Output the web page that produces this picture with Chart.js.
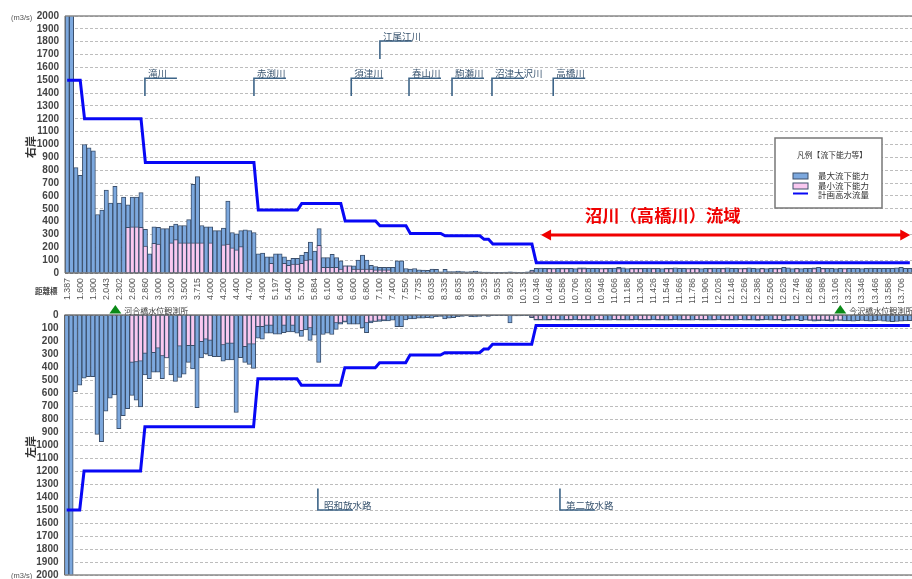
<!DOCTYPE html>
<html lang="ja"><head><meta charset="utf-8">
<script src="https://cdn.jsdelivr.net/npm/chart.js@4/dist/chart.umd.min.js"></script>
<style>
html,body{margin:0;padding:0;background:#fff;overflow:hidden}
#wrap{position:relative;width:912px;height:579px;overflow:hidden;filter:blur(0.55px)}
canvas{position:absolute;left:0}
#top{top:0}#bot{top:300px}
</style></head><body>
<div id="wrap"><canvas id="top" width="912" height="303"></canvas><canvas id="bot" width="912" height="279"></canvas></div>
<script>
const tickLabels=['1.387','1.600','1.900','2.043','2.302','2.600','2.860','3.000','3.200','3.500','3.715','4.000','4.200','4.400','4.700','4.900','5.197','5.400','5.700','5.884','6.100','6.400','6.600','6.800','7.100','7.400','7.550','7.735','8.035','8.335','8.635','8.935','9.235','9.535','9.820','10.135','10.346','10.466','10.586','10.706','10.826','10.946','11.066','11.186','11.306','11.426','11.546','11.666','11.786','11.906','12.026','12.146','12.266','12.386','12.506','12.626','12.746','12.866','12.986','13.106','13.226','13.346','13.466','13.586','13.706'];
const yTicks=[0,100,200,300,400,500,600,700,800,900,1000,1100,1200,1300,1400,1500,1600,1700,1800,1900,2000];
const rightMax=[2600,2600,820,760,1000,975,950,455,490,645,
545,675,545,590,530,590,590,625,340,150,
360,355,345,345,365,380,370,370,415,690,
750,370,360,360,330,330,350,560,315,305,
330,335,330,315,150,155,125,125,150,150,
125,100,115,115,140,160,240,170,345,120,
120,145,120,95,55,55,55,100,140,100,
60,50,45,45,45,45,95,95,35,30,
35,25,22,20,30,28,10,28,12,12,
14,12,10,12,14,10,8,8,6,5,
6,8,10,8,6,5,10,22,
36,38,36,36,34,36,38,36,36,34,41,41,
36,36,36,34,36,36,38,44,41,34,36,36,
36,36,38,36,36,34,36,36,41,36,36,34,
36,36,34,36,36,38,36,36,41,36,36,34,
36,41,36,34,36,34,36,38,36,44,41,34,
36,34,36,36,41,44,36,36,36,34,36,34,
36,36,36,34,36,38,36,36,36,36,36,41,44,36,36];
const rightMin=[0,0,0,0,0,0,0,0,0,0,
0,0,0,0,355,360,360,355,210,0,
230,225,0,0,235,260,235,235,235,235,
235,235,0,235,0,0,220,225,195,180,
205,0,0,0,0,0,0,75,0,0,
75,60,70,70,75,100,105,0,215,45,
45,45,45,30,55,55,30,30,30,30,
30,25,25,25,25,0,0,0,0,0,
0,0,0,0,0,0,0,0,0,0,
0,0,0,0,0,0,0,0,0,0,
0,0,0,0,0,0,0,15,
0,0,0,34,34,0,34,34,0,0,34,34,
0,0,0,34,34,0,0,34,0,0,34,34,
34,0,0,34,0,0,34,34,0,0,0,34,
34,34,0,0,34,0,0,34,0,0,0,34,
34,0,0,0,34,0,0,34,34,0,0,0,
34,0,0,0,34,0,34,0,0,0,0,34,
0,0,0,0,0,0,0,0,0,0,0,0,0,0,0];
const leftMax=[2600,2600,590,540,485,475,475,918,975,740,
640,615,875,775,720,618,655,708,460,490,
440,440,490,330,460,510,480,455,365,415,
712,330,300,315,320,320,355,345,345,750,
328,365,380,410,178,185,140,140,148,148,
135,130,130,140,165,115,195,155,365,150,
140,150,110,70,55,70,70,70,100,135,
60,50,50,45,45,40,90,90,38,30,
30,25,25,20,25,12,10,30,25,20,
12,10,8,12,15,10,8,10,6,5,
6,6,60,8,8,6,6,20,
39,40,39,39,38,39,40,39,39,38,39,40,
39,39,38,40,39,39,38,39,40,39,39,38,
39,40,39,38,39,39,40,39,38,39,39,40,
39,38,39,40,39,39,38,39,40,39,39,38,
40,39,39,42,39,38,40,39,39,46,42,39,
40,44,39,42,48,46,42,44,48,40,42,46,
46,48,44,42,46,48,44,42,48,50,52,50,48,46,44];
const leftMin=[0,0,0,0,0,0,0,0,0,0,
0,0,0,0,0,365,360,355,295,0,
290,255,315,330,0,0,240,0,235,235,
0,205,185,195,0,0,230,218,218,0,
0,243,225,225,90,90,80,80,0,0,
80,0,80,0,120,0,100,0,0,0,
0,0,60,60,50,0,0,0,0,60,
50,50,40,40,0,0,0,0,0,0,
0,0,0,0,0,0,0,0,0,0,
0,0,0,0,0,0,0,0,0,0,
0,0,0,0,0,0,0,15,
36,36,0,36,36,36,0,36,36,0,36,36,
36,0,36,36,0,0,36,36,36,0,36,0,
36,36,36,0,36,36,0,36,0,0,36,36,
0,36,36,36,0,36,0,36,36,36,0,36,
0,36,0,36,36,0,0,36,36,0,36,0,
36,0,0,40,40,40,40,40,40,40,40,0,
0,0,0,0,0,0,0,0,0,0,0,0,0,0,0];
const rightPlan=[1500,1500,1500,1500,
1200,1200,1200,1200,1200,1200,1200,1200,1200,1200,1200,1200,1200,1200,
860,860,860,860,860,860,860,860,860,860,860,860,860,860,860,860,860,860,860,860,860,860,860,860,860,860,
490,490,490,490,490,490,490,490,490,490,
540,540,540,540,540,540,540,540,540,540,
405,405,405,405,405,405,405,405,
368,368,368,368,368,368,368,
308,308,308,308,308,308,308,308,
290,290,290,290,290,290,290,290,290,
262,262,
225,225,225,225,225,225,225,225,225,225,
80,80,80,80,80,80,80,80,80,80,80,80,80,80,80,80,80,80,80,80,80,80,80,80,80,80,80,80,80,80,
80,80,80,80,80,80,80,80,80,80,80,80,80,80,80,80,80,80,80,80,80,80,80,80,80,80,80,80,80,80,
80,80,80,80,80,80,80,80,80,80,80,80,80,80,80,80,80,80,80,80,80,80,80,80,80,80,80];
const leftPlan=rightPlan.slice();
const tribNames=['滝川','赤渕川','須津川','春山川','駒瀬川','沼津大沢川','高橋川'];
const tribIndex=[17.9,43,65.4,78.7,88.6,97.8,111.9];
const upperTrib={name:'江尾江川',index:72,top:1805,bottom:1665};
const tribTop=1515, tribBottom=1377;
const drainNames=['昭和放水路','第二放水路'];
const drainIndex=[57.8,113.5];
const drainFrom=1335, drainTo=1500;
const stationNames=['河合橋水位観測所','今沢橋水位観測所'];
const stationIndex=[11.2,178];
const basinName='沼川（高橋川）流域';
const basinArrowFrom=109.1, basinArrowTo=194.1, basinArrowLevel=296;
const legendTitle='凡例【流下能力等】';
const seriesNames=['最大流下能力','最小流下能力','計画高水流量'];

const BLUE='#7ca8de',PINK='#f9c8f0',EDGE='#3b4f6b',PLAN='#0808f5',BRK='#3d6488';
const CJK='"Noto Sans CJK JP"',LAT='"Liberation Sans"';
const categories=tickLabels.flatMap(l=>[l,'','']);

function text(ctx,s,x,y,font,color,align){ctx.font=font;ctx.fillStyle=color;ctx.textAlign=align||'left';ctx.textBaseline='middle';ctx.fillText(s,x,y);}
function seg(ctx,pts,color,w){ctx.beginPath();ctx.strokeStyle=color;ctx.lineWidth=w;ctx.setLineDash([]);pts.forEach((p,i)=>i?ctx.lineTo(p[0],p[1]):ctx.moveTo(p[0],p[1]));ctx.stroke();}
function frame(ctx,c){const a=c.chartArea,y0=c.scales.y.getPixelForValue(0),y2=c.scales.y.getPixelForValue(2000);
  seg(ctx,[[a.left,y2],[a.right,y2]],'#8a8a8a',1.5);seg(ctx,[[a.left,y0],[a.right,y0]],'#333',1.2);seg(ctx,[[a.left,a.top],[a.left,a.bottom]],'#666',1);}
function vert(ctx,s,x,y,font,color){ctx.save();ctx.translate(x,y);ctx.rotate(-Math.PI/2);text(ctx,s,0,0,font,color,'center');ctx.restore();}

const topDecor={id:'topDecor',afterDraw(c){const ctx=c.ctx,X=c.scales.x,Y=c.scales.y;ctx.save();
  frame(ctx,c);
  const brk=(name,idx,top,bot)=>{const x=X.getPixelForValue(idx),yt=Y.getPixelForValue(top),yb=Y.getPixelForValue(bot);
    seg(ctx,[[x,yb],[x,yt],[x+32,yt]],BRK,1.6);text(ctx,name,x+3,yt-5,'9.5px '+CJK,'#3a5570');};
  tribNames.forEach((n,i)=>brk(n,tribIndex[i],tribTop,tribBottom));
  brk(upperTrib.name,upperTrib.index,upperTrib.top,upperTrib.bottom);
  text(ctx,'(m3/s)',11,18,'7.5px '+LAT,'#555');
  text(ctx,'距離標',35,291,'bold 7.5px '+CJK,'#444');
  vert(ctx,'右岸',31,147,'bold 11px '+CJK,'#333');
  text(ctx,basinName,585,215,'bold 17.3px '+CJK,'#f00000');
  const ax=X.getPixelForValue(basinArrowFrom),bx=X.getPixelForValue(basinArrowTo),ay=Y.getPixelForValue(basinArrowLevel);
  seg(ctx,[[ax+6,ay],[bx-6,ay]],'#f00000',3);
  ctx.fillStyle='#f00000';
  ctx.beginPath();ctx.moveTo(ax,ay);ctx.lineTo(ax+10,ay-5.5);ctx.lineTo(ax+10,ay+5.5);ctx.closePath();ctx.fill();
  ctx.beginPath();ctx.moveTo(bx,ay);ctx.lineTo(bx-10,ay-5.5);ctx.lineTo(bx-10,ay+5.5);ctx.closePath();ctx.fill();
  ctx.fillStyle='#fff';ctx.fillRect(775,138,107,70);ctx.strokeStyle='#777';ctx.lineWidth=1.5;ctx.strokeRect(775,138,107,70);
  text(ctx,legendTitle,797,155,'7.8px '+CJK,'#333');
  ctx.fillStyle=BLUE;ctx.fillRect(793,173,15,6);ctx.strokeStyle=EDGE;ctx.lineWidth=1;ctx.strokeRect(793,173,15,6);
  ctx.fillStyle=PINK;ctx.fillRect(793,183,15,6);ctx.strokeRect(793,183,15,6);
  seg(ctx,[[793,193.5],[808,193.5]],PLAN,2);
  [176,186,195].forEach((y,i)=>text(ctx,seriesNames[i],818,y,'8.5px '+CJK,'#333'));
  ctx.restore();}};
const botDecor={id:'botDecor',afterDraw(c){const ctx=c.ctx,X=c.scales.x,Y=c.scales.y;ctx.save();
  frame(ctx,c);
  drainNames.forEach((n,i)=>{const x=X.getPixelForValue(drainIndex[i]),ya=Y.getPixelForValue(drainFrom),yb=Y.getPixelForValue(drainTo);
    seg(ctx,[[x,ya],[x,yb],[x+35,yb]],BRK,1.6);text(ctx,n,x+6,yb-5,'9.5px '+CJK,'#3a5570');});
  stationNames.forEach((n,i)=>{const x=X.getPixelForValue(stationIndex[i]);
    ctx.fillStyle='#0b8a17';ctx.beginPath();ctx.moveTo(x,5);ctx.lineTo(x-6,13.5);ctx.lineTo(x+6,13.5);ctx.closePath();ctx.fill();
    text(ctx,n,x+9,11,'8px '+CJK,'#444');});
  text(ctx,'(m3/s)',11,276,'7.5px '+LAT,'#555');
  vert(ctx,'左岸',31,147,'bold 11px '+CJK,'#333');
  ctx.restore();}};

function sets(maxV,minV,plan){return [
 {type:'line',label:seriesNames[2],data:plan,borderColor:PLAN,borderWidth:3,pointRadius:0,tension:0,order:0,clip:false},
 {type:'bar',label:seriesNames[1],data:minV,backgroundColor:PINK,borderColor:EDGE,borderWidth:1,order:1},
 {type:'bar',label:seriesNames[0],data:maxV,backgroundColor:BLUE,borderColor:EDGE,borderWidth:1,order:2}];}
function cfg(maxV,minV,plan,isTop,plugin,padB,xh){return {type:'bar',
 data:{labels:categories,datasets:sets(maxV,minV,plan)},
 options:{responsive:false,animation:false,
  layout:{padding:isTop?{top:16,right:0,bottom:0,left:0}:{top:15,right:0,bottom:padB,left:0}},
  datasets:{bar:{grouped:false,barPercentage:1,categoryPercentage:1}},
  plugins:{legend:{display:false},tooltip:{enabled:false},title:{display:false}},
  scales:{
   x:{display:isTop,grid:{display:false,drawTicks:false},border:{display:false},
      ticks:{autoSkip:false,maxRotation:90,minRotation:90,padding:5,font:{size:8.8,family:LAT},color:'#555'},
      afterFit(s){s.paddingLeft=0;s.paddingRight=0;if(isTop)s.height=xh;}},
   y:{min:0,max:2000,reverse:!isTop,afterBuildTicks(s){s.ticks=yTicks.map(v=>({value:v}));},
      afterFit(s){s.paddingTop=0;s.paddingBottom=0;s.width=isTop?65:64.5;},
      grid:{color:'#bdbdbd',lineWidth:1,drawTicks:false},border:{display:false,dash:[3,2]},
      ticks:{padding:6,autoSkip:false,callback:v=>String(v),font:{size:10,family:LAT,weight:'bold'},color:'#444'}}}},
 plugins:[plugin]};}
new Chart(document.getElementById('top'),cfg(rightMax,rightMin,rightPlan,true,topDecor,0,30));
new Chart(document.getElementById('bot'),cfg(leftMax,leftMin,leftPlan,false,botDecor,4,0));
</script></body></html>
